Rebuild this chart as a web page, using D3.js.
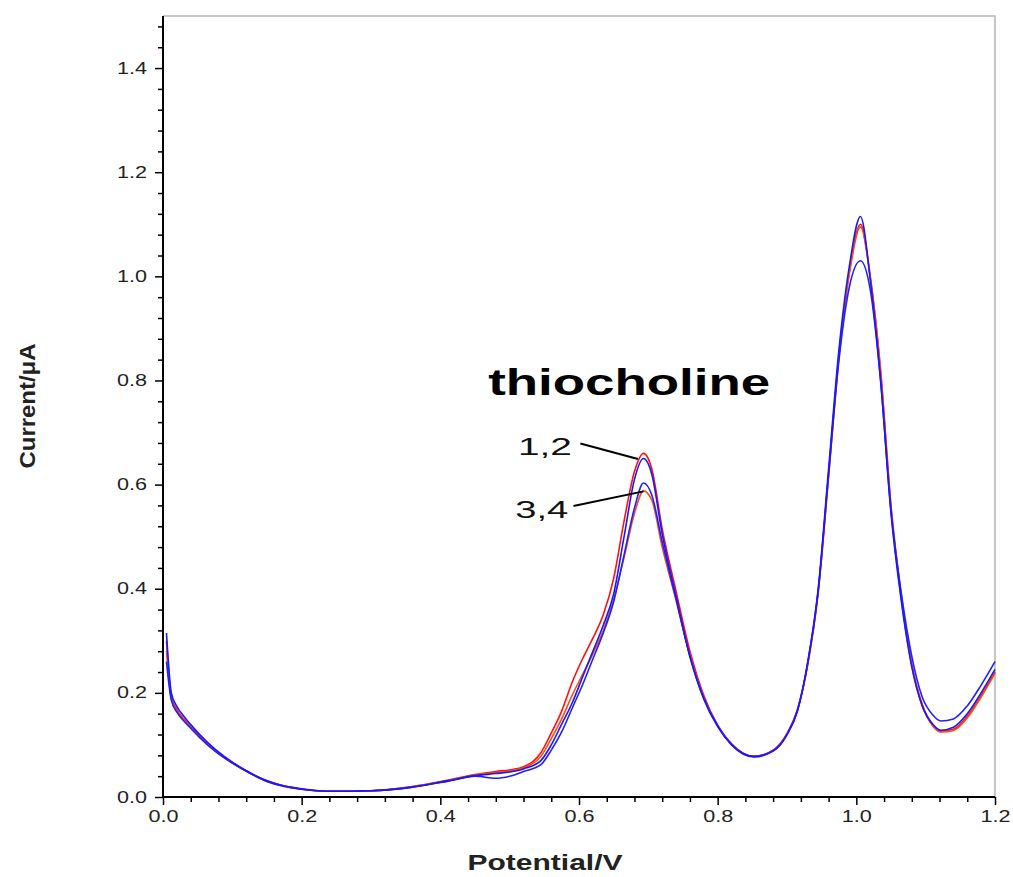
<!DOCTYPE html>
<html>
<head>
<meta charset="utf-8">
<script src="https://cdn.jsdelivr.net/npm/d3@7"></script>
<style>
  body { margin: 0; background: #fff; }
  text { font-family: "Liberation Sans", Arial, sans-serif; }
</style>
</head>
<body>
<div id="chart"></div>
<script>
// Potencial (V) común a las cuatro curvas
const potential = [0.005, 0.012, 0.02, 0.03, 0.04, 0.053, 0.075, 0.1, 0.125, 0.15,
  0.175, 0.2, 0.24, 0.3, 0.36, 0.41, 0.45, 0.48, 0.5, 0.52,
  0.545, 0.56, 0.575, 0.59, 0.605, 0.62, 0.635, 0.65, 0.665, 0.68,
  0.693, 0.705, 0.72, 0.74, 0.76, 0.78, 0.8, 0.82, 0.852, 0.88,
  0.9, 0.915, 0.93, 0.945, 0.96, 0.975, 0.99, 1.006, 1.02, 1.035,
  1.05, 1.065, 1.08, 1.095, 1.11, 1.122, 1.14, 1.16, 1.18, 1.2];

// Corriente (µA) de cada curva
const current1 = [0.300, 0.192, 0.168, 0.150, 0.135, 0.117, 0.090, 0.066, 0.046, 0.031,
  0.021, 0.015, 0.011, 0.012, 0.020, 0.032, 0.043, 0.049, 0.052, 0.058,
  0.085, 0.123, 0.165, 0.220, 0.265, 0.305, 0.350, 0.420, 0.530, 0.625,
  0.660, 0.630, 0.515, 0.395, 0.280, 0.195, 0.138, 0.102, 0.078, 0.090,
  0.122, 0.168, 0.255, 0.395, 0.620, 0.850, 1.010, 1.100, 1.000, 0.820,
  0.560, 0.385, 0.255, 0.178, 0.138, 0.126, 0.130, 0.155, 0.195, 0.240];
const current2 = [0.315, 0.200, 0.174, 0.155, 0.139, 0.120, 0.092, 0.067, 0.047, 0.031,
  0.021, 0.016, 0.011, 0.012, 0.019, 0.031, 0.041, 0.045, 0.048, 0.054,
  0.070, 0.100, 0.140, 0.180, 0.230, 0.280, 0.330, 0.390, 0.500, 0.610,
  0.650, 0.620, 0.505, 0.385, 0.270, 0.188, 0.135, 0.100, 0.077, 0.088,
  0.120, 0.165, 0.260, 0.400, 0.630, 0.860, 1.020, 1.115, 0.995, 0.800,
  0.545, 0.375, 0.250, 0.175, 0.140, 0.128, 0.134, 0.160, 0.200, 0.245];
const current3 = [0.260, 0.186, 0.163, 0.146, 0.132, 0.114, 0.088, 0.065, 0.046, 0.030,
  0.020, 0.015, 0.011, 0.012, 0.019, 0.030, 0.040, 0.036, 0.040, 0.049,
  0.062, 0.090, 0.125, 0.170, 0.215, 0.265, 0.315, 0.375, 0.465, 0.555,
  0.603, 0.580, 0.490, 0.380, 0.270, 0.190, 0.137, 0.101, 0.078, 0.089,
  0.120, 0.165, 0.258, 0.395, 0.620, 0.840, 0.980, 1.030, 0.975, 0.800,
  0.550, 0.390, 0.270, 0.192, 0.158, 0.146, 0.150, 0.175, 0.215, 0.260];
const current4 = [0.280, 0.189, 0.165, 0.148, 0.133, 0.115, 0.089, 0.065, 0.046, 0.030,
  0.021, 0.015, 0.011, 0.012, 0.020, 0.031, 0.042, 0.047, 0.050, 0.056,
  0.078, 0.112, 0.150, 0.195, 0.235, 0.275, 0.320, 0.380, 0.460, 0.545,
  0.588, 0.570, 0.480, 0.378, 0.272, 0.192, 0.137, 0.101, 0.078, 0.089,
  0.121, 0.167, 0.255, 0.392, 0.615, 0.845, 1.005, 1.095, 1.000, 0.815,
  0.555, 0.380, 0.252, 0.176, 0.137, 0.125, 0.128, 0.152, 0.192, 0.238];

// Marcas de los ejes
const xTicks = [0, 0.2, 0.4, 0.6, 0.8, 1.0, 1.2];
const yTicks = [0, 0.2, 0.4, 0.6, 0.8, 1.0, 1.2, 1.4];

// Dimensiones
const width = 1013;
const height = 877;
const marginLeft = 163;
const marginRight = 18;
const marginTop = 16;
const marginBottom = 80;

const svg = d3.select("#chart")
  .append("svg")
  .attr("width", width)
  .attr("height", height);

svg.append("rect").attr("width", width).attr("height", height).attr("fill", "#fff");

const x = d3.scaleLinear().domain([0, 1.2]).range([marginLeft, width - marginRight]);
const y = d3.scaleLinear().domain([0, 1.5]).range([height - marginBottom, marginTop]);

// Marco gris (arriba y derecha)
svg.append("path")
  .attr("d", `M${x(0)},${y(1.5)}H${x(1.2)}V${y(0)}`)
  .attr("fill", "none")
  .attr("stroke", "#b4b4b4")
  .attr("stroke-width", 1.5);

// Marcas menores
const minor = d3.range(38).map(i => +(i * 0.04).toFixed(2)).filter((d, i) => i % 5 !== 0);
const minorX = d3.range(31).map(i => +(i * 0.04).toFixed(2)).filter((d, i) => i % 5 !== 0);

function styleTicks(g) {
  g.selectAll(".tick line").attr("stroke", "#000").attr("stroke-width", 1.5);
  g.select(".domain").remove();
}

svg.append("g")
  .attr("transform", `translate(0,${y(0)})`)
  .call(d3.axisBottom(x).tickValues(minorX).tickSize(5).tickFormat(""))
  .call(styleTicks);

svg.append("g")
  .attr("transform", `translate(${x(0)},0)`)
  .call(d3.axisLeft(y).tickValues(minor).tickSize(5).tickFormat(""))
  .call(styleTicks);

// Ejes principales
svg.append("g")
  .attr("transform", `translate(0,${y(0)})`)
  .call(d3.axisBottom(x).tickValues(xTicks).tickSize(8).tickPadding(6).tickFormat(d3.format(".1f")))
  .call(styleTicks)
  .call(g => g.selectAll("text")
    .attr("fill", "#222")
    .style("font-size", "16px")
    .attr("textLength", 30)
    .attr("lengthAdjust", "spacingAndGlyphs"));

svg.append("g")
  .attr("transform", `translate(${x(0)},0)`)
  .call(d3.axisLeft(y).tickValues(yTicks).tickSize(8).tickPadding(8).tickFormat(d3.format(".1f")))
  .call(styleTicks)
  .call(g => g.selectAll("text")
    .attr("fill", "#222")
    .style("font-size", "16px")
    .attr("textLength", 30)
    .attr("lengthAdjust", "spacingAndGlyphs"));

// Líneas de los ejes
svg.append("line")
  .attr("x1", x(0)).attr("x2", x(0))
  .attr("y1", y(0)).attr("y2", y(1.5))
  .attr("stroke", "#000").attr("stroke-width", 2);
svg.append("line")
  .attr("x1", x(0)).attr("x2", x(1.2))
  .attr("y1", y(0)).attr("y2", y(0))
  .attr("stroke", "#000").attr("stroke-width", 2);

// Curvas
const series = [
  { values: current1, color: "#ff1010" },
  { values: current4, color: "#ff4a10" },
  { values: current3, color: "#2020ff" },
  { values: current2, color: "#1818ff" }
];

const line = d3.line()
  .x(d => x(d[0]))
  .y(d => y(d[1]))
  .curve(d3.curveMonotoneX);

series.forEach(s => {
  svg.append("path")
    .datum(potential.map((p, i) => [p, s.values[i]]))
    .attr("d", line)
    .attr("fill", "none")
    .attr("stroke", s.color)
    .attr("stroke-width", 1.6);
});

// Anotaciones
svg.append("text")
  .attr("x", x(0.469)).attr("y", y(0.772))
  .attr("font-weight", "bold")
  .style("font-size", "36px")
  .attr("textLength", 282)
  .attr("lengthAdjust", "spacingAndGlyphs")
  .text("thiocholine");

svg.append("text")
  .attr("x", x(0.512)).attr("y", y(0.657))
  .style("font-size", "23px")
  .attr("fill", "#111")
  .attr("textLength", 54)
  .attr("lengthAdjust", "spacingAndGlyphs")
  .text("1,2");

svg.append("text")
  .attr("x", x(0.508)).attr("y", y(0.535))
  .style("font-size", "23px")
  .attr("fill", "#111")
  .attr("textLength", 53)
  .attr("lengthAdjust", "spacingAndGlyphs")
  .text("3,4");

svg.append("line")
  .attr("x1", x(0.602)).attr("y1", y(0.679))
  .attr("x2", x(0.685)).attr("y2", y(0.649))
  .attr("stroke", "#000").attr("stroke-width", 2);
svg.append("line")
  .attr("x1", x(0.592)).attr("y1", y(0.559))
  .attr("x2", x(0.693)).attr("y2", y(0.587))
  .attr("stroke", "#000").attr("stroke-width", 2);

// Títulos de los ejes
svg.append("text")
  .attr("x", 545).attr("y", 870)
  .attr("text-anchor", "middle")
  .attr("font-weight", "bold")
  .attr("fill", "#222")
  .style("font-size", "22px")
  .attr("textLength", 155)
  .attr("lengthAdjust", "spacingAndGlyphs")
  .text("Potential/V");

svg.append("text")
  .attr("transform", "translate(35,406) rotate(-90)")
  .attr("text-anchor", "middle")
  .attr("font-weight", "bold")
  .attr("fill", "#222")
  .style("font-size", "22px")
  .attr("textLength", 125)
  .attr("lengthAdjust", "spacingAndGlyphs")
  .text("Current/μA");
</script>
</body>
</html>
